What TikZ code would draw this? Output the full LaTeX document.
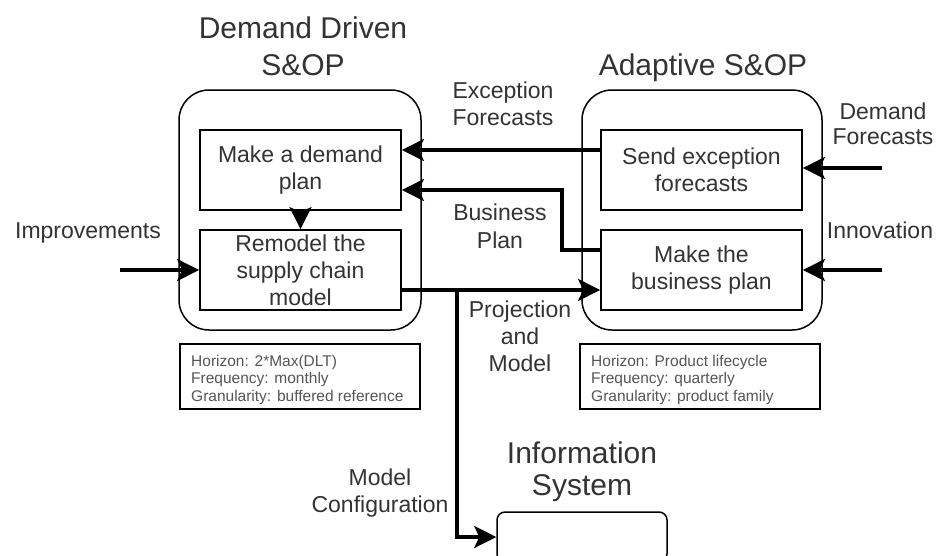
\documentclass[tikz,border=0pt]{standalone}
\usepackage{fontspec}
\setmainfont{Liberation Sans}
\usetikzlibrary{arrows.meta,calc}
\definecolor{txt}{HTML}{333333}
\definecolor{stxt}{HTML}{555555}
\begin{document}
\begin{tikzpicture}[x=1pt,y=-1pt,
 container/.style={draw,line width=1.5pt,rounded corners=30pt,minimum width=242pt,minimum height=240pt,inner sep=0},
 procbox/.style={draw,line width=1.8pt,minimum width=201pt,minimum height=80pt,align=center,inner sep=0,text=txt,font=\fontsize{23}{27}\selectfont},
 infobox/.style={draw,line width=1.8pt,minimum width=240pt,minimum height=65pt,inner sep=0},
 infotext/.style={anchor=north west,align=left,inner sep=0,text=stxt,font=\fontsize{15.5}{17.5}\selectfont},
 lbl/.style={anchor=base,inner sep=0,text=txt,font=\fontsize{23}{27}\selectfont},
 ttl/.style={anchor=base,inner sep=0,text=txt,font=\fontsize{30}{36}\selectfont},
 conn/.style={line width=3.2pt,-{Stealth[length=22pt,width=22pt,inset=5pt]}},
]
\useasboundingbox (0,0) rectangle (936,555);
\fill[white] (0,0) rectangle (936,555);

\node[container] (ddc) at (300,210) {};
\node[container, minimum width=240pt] (adc) at (702,210) {};
\node[procbox] (mdp) at (300.5,170) {Make a demand\\plan};
\node[procbox] (rsc) at (300.5,270) {Remodel the\\supply chain\\model};
\node[procbox] (sef) at (701.5,170) {Send exception\\forecasts};
\node[procbox] (mbp) at (701.5,270) {Make the\\business plan};

\node[infobox] (infl) at (300,376.5) {};
\node[infotext] (inftl) at (191,355) {Horizon: 2*Max(DLT)\\Frequency: monthly\\Granularity: buffered reference};
\node[infobox] (infr) at (700,376.5) {};
\node[infotext] (inftr) at (591,355) {Horizon: Product lifecycle\\Frequency: quarterly\\Granularity: product family};

\node[draw,line width=1.5pt,rounded corners=8pt,minimum width=170pt,minimum height=50pt] (isys) at (582,537) {};

\node[ttl] (t1a) at (303,38) {Demand Driven};
\node[ttl] (t1b) at (303,75) {S\&OP};
\node[ttl] (t2) at (703,75) {Adaptive S\&OP};
\node[ttl] (t3a) at (582,463) {Information};
\node[ttl] (t3b) at (582,495) {System};

\node[lbl] (l1a) at (503,98) {Exception};
\node[lbl] (l1b) at (503,125) {Forecasts};
\node[lbl] (l2a) at (500,220) {Business};
\node[lbl] (l2b) at (500,248) {Plan};
\node[lbl] (l3a) at (520,317) {Projection};
\node[lbl] (l3b) at (520,344) {and};
\node[lbl] (l3c) at (520,371) {Model};
\node[lbl] (l4) at (88,238) {Improvements};
\node[lbl] (l5) at (880,238) {Innovation};
\node[lbl] (l6a) at (883,119) {Demand};
\node[lbl] (l6b) at (883,144) {Forecasts};
\node[lbl] (l7a) at (380,485) {Model};
\node[lbl] (l7b) at (380,512) {Configuration};

\coordinate (impS) at (120,270);
\coordinate (dfS) at (882,168);
\coordinate (innS) at (882,270);
\coordinate (br) at (457,290);
\coordinate (bpx) at (562,220);

\draw[conn] ([yshift=20pt]sef.west) -- ([yshift=20pt]mdp.east);
\draw[conn] ([yshift=20pt]mbp.west) -| (bpx) |- ([yshift=-20pt]mdp.east);
\draw[conn] (mdp.south) -- (rsc.north);
\draw[conn] ([yshift=-20pt]rsc.east) -- ([yshift=-20pt]mbp.west);
\draw[conn] (br) |- (isys.west);
\draw[conn] (impS) -- (rsc.west);
\draw[conn] (dfS) -- (sef.east |- dfS);
\draw[conn] (innS) -- (mbp.east);
\end{tikzpicture}
\end{document}
